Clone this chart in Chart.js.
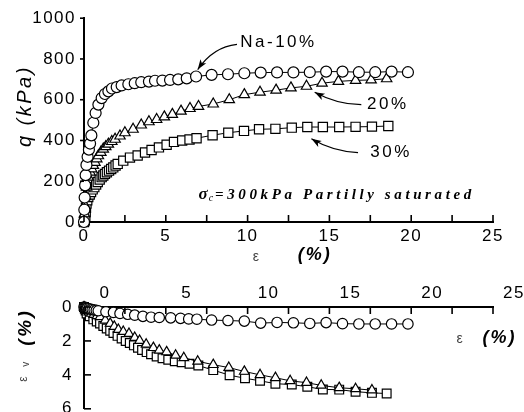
<!DOCTYPE html>
<html>
<head>
<meta charset="utf-8">
<script src="https://cdn.jsdelivr.net/npm/chart.js@4/dist/chart.umd.min.js"></script>
<style>
  html, body { margin: 0; padding: 0; background: #fff; overflow: hidden; }
  #wrap { position: relative; width: 524px; height: 412px; overflow: hidden; }
  #wrap canvas { position: absolute; left: 0; }
  #qChart { top: 0; }
  #vChart { top: 270px; }
</style>
</head>
<body>
<div id="wrap">
  <canvas id="qChart" width="524" height="270"></canvas>
  <canvas id="vChart" width="524" height="160"></canvas>
</div>
<script>
// axial strain (%) vs deviator stress q (kPa)
const naStrain = [0, 0.02, 0.04, 0.07, 0.1, 0.15, 0.22, 0.3, 0.37, 0.45, 0.57, 0.71, 0.88, 1.08, 1.28, 1.49, 1.71, 2.0, 2.3, 2.71, 3.1, 3.5, 3.97, 4.34, 4.79, 5.26, 5.76, 6.28, 6.85, 7.8, 8.8, 9.8, 10.8, 11.8, 12.8, 13.8, 14.8, 15.8, 16.8, 17.8, 18.8, 19.8];
const naQ      = [0, 60, 120, 180, 230, 280, 320, 355, 385, 425, 487, 535, 576, 608, 628, 641, 655, 662, 670, 676, 681, 686, 689, 693, 694, 697, 700, 705, 714, 722, 725, 730, 733, 734, 734, 735, 738, 738, 735, 735, 738, 735];

const s20Strain = [0, 0.03, 0.06, 0.1, 0.16, 0.26, 0.37, 0.47, 0.57, 0.67, 0.78, 0.88, 1.03, 1.18, 1.33, 1.49, 1.7, 1.9, 2.2, 2.5, 3.0, 3.5, 3.97, 4.44, 4.91, 5.4, 5.93, 6.48, 7.0, 7.9, 8.88, 9.8, 10.76, 11.74, 12.65, 13.6, 14.55, 15.55, 16.6, 17.55, 18.5];
const s20Q      = [0, 40, 80, 125, 171, 220, 245, 261, 278, 293, 310, 325, 342, 358, 370, 382, 395, 406, 422, 438, 455, 476, 492, 503, 516, 528, 544, 557, 567, 579, 600, 625, 637, 647, 658, 666, 681, 690, 695, 697, 703];

const s30Strain = [0, 0.05, 0.08, 0.1, 0.12, 0.15, 0.2, 0.26, 0.35, 0.43, 0.53, 0.63, 0.74, 0.84, 0.96, 1.08, 1.18, 1.28, 1.4, 1.53, 1.66, 1.79, 1.93, 2.06, 2.4, 2.81, 3.28, 3.73, 4.13, 4.58, 5.05, 5.5, 6.0, 6.45, 6.88, 7.86, 8.82, 9.78, 10.7, 11.7, 12.7, 13.65, 14.6, 15.6, 16.6, 17.6, 18.6];
const s30Q      = [0, 10, 30, 50, 70, 90, 107, 123, 135, 147, 160, 171, 184, 196, 208, 220, 228, 236, 244, 252, 260, 268, 277, 285, 301, 316, 326, 341, 353, 366, 379, 393, 400, 405, 411, 426, 438, 447, 455, 457, 463, 466, 466, 466, 467, 468, 471];

// axial strain (%) vs volumetric strain (%)
const naVStrain = [0, 0.05, 0.1, 0.15, 0.2, 0.3, 0.4, 0.5, 0.62, 0.75, 0.87, 1.34, 1.8, 2.2, 2.67, 3.1, 3.6, 4.1, 4.6, 5.3, 5.9, 6.4, 6.9, 7.8, 8.8, 9.8, 10.8, 11.8, 12.8, 13.8, 14.8, 15.8, 16.8, 17.8, 18.8, 19.8];
const naVol     = [0, 0.02, 0.04, 0.06, 0.08, 0.1, 0.13, 0.15, 0.18, 0.2, 0.22, 0.28, 0.32, 0.38, 0.43, 0.48, 0.55, 0.6, 0.62, 0.64, 0.67, 0.7, 0.72, 0.77, 0.8, 0.83, 0.95, 0.91, 0.93, 0.97, 0.92, 0.98, 1.0, 1.0, 1.0, 1.0];

const v20Strain = [0, 0.05, 0.1, 0.2, 0.3, 0.45, 0.6, 0.8, 0.98, 1.3, 1.6, 1.85, 2.1, 2.4, 2.75, 3.1, 3.4, 3.8, 4.24, 4.6, 5.05, 5.6, 6.1, 6.95, 7.9, 8.85, 9.8, 10.76, 11.7, 12.6, 13.6, 14.5, 15.6, 16.6, 17.6];
const v20Vol    = [0, 0.08, 0.15, 0.22, 0.3, 0.38, 0.45, 0.52, 0.58, 0.78, 0.97, 1.15, 1.33, 1.45, 1.57, 1.8, 1.98, 2.2, 2.4, 2.55, 2.65, 2.85, 3.0, 3.2, 3.4, 3.57, 3.8, 4.0, 4.17, 4.35, 4.46, 4.62, 4.76, 4.82, 4.9];

const v30Strain = [0, 0.05, 0.1, 0.16, 0.35, 0.57, 0.78, 0.98, 1.18, 1.39, 1.6, 1.8, 2.05, 2.3, 2.55, 2.8, 3.05, 3.3, 3.55, 3.83, 4.1, 4.44, 4.8, 5.15, 5.55, 5.97, 6.45, 6.99, 7.9, 8.9, 9.84, 10.76, 11.7, 12.7, 13.65, 14.6, 15.6, 16.6, 17.6, 18.5];
const v30Vol    = [0, 0.1, 0.2, 0.38, 0.55, 0.73, 0.85, 0.97, 1.12, 1.27, 1.4, 1.53, 1.7, 1.86, 2.0, 2.12, 2.26, 2.4, 2.53, 2.66, 2.78, 2.92, 3.02, 3.11, 3.2, 3.26, 3.35, 3.45, 3.72, 4.02, 4.2, 4.35, 4.52, 4.57, 4.7, 4.86, 4.87, 4.99, 5.06, 5.1];

const strainTicks = [0, 5, 10, 15, 20, 25];
const qTicks = [0, 200, 400, 600, 800, 1000];
const volTicks = [0, 2, 4, 6];

const SANS = '"Liberation Sans", Arial, sans-serif';
const SERIF = '"Liberation Serif", "Times New Roman", serif';
const tickFont = { family: SANS, size: 17 };

const pts = (xs, ys) => xs.map((x, i) => ({ x, y: ys[i] }));

function series(label, data, style, r) {
  return {
    label, data, showLine: true, clip: false,
    borderColor: '#000', borderWidth: 1,
    pointStyle: style, pointRadius: r,
    pointBackgroundColor: '#fff', pointBorderColor: '#000', pointBorderWidth: 1.2
  };
}

// wide tracking on all canvas text
const spacing = {
  id: 'spacing',
  beforeUpdate(chart, args, opts) { chart.ctx.letterSpacing = opts.px + 'px'; },
  beforeDraw(chart, args, opts) { chart.ctx.letterSpacing = opts.px + 'px'; }
};

// short tick marks; negative length points up / left
const tickMarks = {
  id: 'tickMarks',
  afterDraw(chart, args, opts) {
    const ctx = chart.ctx;
    ctx.save();
    ctx.strokeStyle = '#000';
    ctx.lineWidth = 1.6;
    ['x', 'y'].forEach(id => {
      const sc = chart.scales[id];
      const len = opts[id];
      sc.ticks.forEach(t => {
        const p = sc.getPixelForValue(t.value);
        ctx.beginPath();
        if (sc.isHorizontal()) {
          const y = sc.position === 'top' ? sc.bottom : sc.top;
          ctx.moveTo(p, y);
          ctx.lineTo(p, y + len);
        } else {
          ctx.moveTo(sc.right, p);
          ctx.lineTo(sc.right + len, p);
        }
        ctx.stroke();
      });
    });
    ctx.restore();
  }
};

function arrow(ctx, s, c, t) {
  ctx.beginPath();
  ctx.moveTo(s[0], s[1]);
  ctx.quadraticCurveTo(c[0], c[1], t[0], t[1]);
  ctx.stroke();
  const a = Math.atan2(t[1] - c[1], t[0] - c[0]);
  const L = 10, W = 3.5;
  ctx.beginPath();
  ctx.moveTo(t[0], t[1]);
  ctx.lineTo(t[0] - L * Math.cos(a) + W * Math.sin(a), t[1] - L * Math.sin(a) - W * Math.cos(a));
  ctx.lineTo(t[0] - L * 0.75 * Math.cos(a), t[1] - L * 0.75 * Math.sin(a));
  ctx.lineTo(t[0] - L * Math.cos(a) - W * Math.sin(a), t[1] - L * Math.sin(a) + W * Math.cos(a));
  ctx.closePath();
  ctx.fill();
}

// series labels with curved pointers, test condition, axis titles
const qNotes = {
  id: 'qNotes',
  afterDraw(chart) {
    const { ctx, chartArea: area } = chart;
    const sx = chart.scales.x, sy = chart.scales.y;
    const P = (x, y) => [sx.getPixelForValue(x), sy.getPixelForValue(y)];
    ctx.save();
    ctx.fillStyle = '#000';
    ctx.strokeStyle = '#000';
    ctx.lineWidth = 1.2;
    ctx.textBaseline = 'middle';
    ctx.textAlign = 'left';
    ctx.letterSpacing = '2.5px';
    ctx.font = '17px ' + SANS;

    let p = P(9.55, 880); ctx.fillText('Na-10%', p[0], p[1]);
    arrow(ctx, P(9.35, 872), P(7.9, 860), P(6.95, 748));
    p = P(17.3, 578); ctx.fillText('20%', p[0], p[1]);
    arrow(ctx, P(16.95, 576), P(15.5, 576), P(14.1, 637));
    p = P(17.5, 340); ctx.fillText('30%', p[0], p[1]);
    arrow(ctx, P(16.75, 340), P(15.2, 346), P(13.9, 408));

    // confining pressure
    p = P(7.0, 135);
    ctx.textBaseline = 'alphabetic';
    ctx.letterSpacing = '1px';
    ctx.font = 'bold italic 17px ' + SERIF;
    ctx.fillText('\u03c3', p[0], p[1] + 5);
    let x = p[0] + ctx.measureText('\u03c3').width;
    ctx.font = 'italic 10px ' + SERIF;
    ctx.fillText('c', x, p[1] + 7);
    x += ctx.measureText('c').width + 1;
    ctx.font = 'bold italic 15px ' + SERIF;
    ctx.letterSpacing = '3.6px';
    ctx.fillText('=300kPa Partilly saturated', x, p[1] + 5);

    // x title
    ctx.textBaseline = 'middle';
    ctx.textAlign = 'center';
    ctx.letterSpacing = '0px';
    ctx.fillStyle = '#444';
    ctx.font = '14px ' + SANS;
    p = P(10.5, 0);
    ctx.fillText('\u03b5', p[0], area.bottom + 35);
    ctx.fillStyle = '#000';
    ctx.letterSpacing = '2px';
    ctx.font = 'bold italic 18px ' + SANS;
    p = P(14.1, 0);
    ctx.fillText('(%)', p[0], area.bottom + 33);

    // y title
    ctx.translate(25, (area.top + area.bottom) / 2 - 14);
    ctx.rotate(-Math.PI / 2);
    ctx.font = 'italic 20px ' + SANS;
    ctx.letterSpacing = '2.5px';
    ctx.fillText('q (kPa)', 0, 0);
    ctx.restore();
  }
};

const vNotes = {
  id: 'vNotes',
  afterDraw(chart) {
    const { ctx, chartArea: area } = chart;
    const sx = chart.scales.x, sy = chart.scales.y;
    ctx.save();
    ctx.textBaseline = 'middle';
    ctx.textAlign = 'center';
    // x title, right side below the axis
    const ty = sy.getPixelForValue(1.85);
    ctx.fillStyle = '#444';
    ctx.font = '14px ' + SANS;
    ctx.fillText('\u03b5', sx.getPixelForValue(23.0), ty + 1);
    ctx.fillStyle = '#000';
    ctx.letterSpacing = '2px';
    ctx.font = 'bold italic 18px ' + SANS;
    ctx.fillText('(%)', sx.getPixelForValue(25.4), ty);

    // y title: epsilon_v (%)
    ctx.translate(24, sy.getPixelForValue(4.4));
    ctx.rotate(-Math.PI / 2);
    ctx.textAlign = 'left';
    ctx.letterSpacing = '0px';
    ctx.fillStyle = '#444';
    ctx.font = '12px ' + SANS;
    ctx.fillText('\u03b5', 0, 0);
    ctx.font = '10px ' + SANS;
    ctx.fillText('v', 15, 2);
    ctx.fillStyle = '#000';
    ctx.letterSpacing = '2.5px';
    ctx.font = 'bold italic 19px ' + SANS;
    ctx.fillText('(%)', 36, 2);
    ctx.restore();
  }
};

const axisBorder = { color: '#000', width: 2 };
const noGrid = { display: false, drawTicks: false };

new Chart(document.getElementById('qChart'), {
  type: 'scatter',
  data: {
    datasets: [
      series('Na-10%', pts(naStrain, naQ), 'circle', 5.5),
      series('20%', pts(s20Strain, s20Q), 'triangle', 6),
      series('30%', pts(s30Strain, s30Q), 'rect', 6.5)
    ]
  },
  options: {
    responsive: false,
    animation: false,
    events: [],
    layout: { padding: { top: 16, right: 31, left: 0, bottom: 0 } },
    plugins: {
      legend: { display: false },
      tooltip: { enabled: false },
      spacing: { px: 1.5 },
      tickMarks: { x: -7, y: -4 }
    },
    scales: {
      x: {
        type: 'linear', min: 0, max: 25,
        afterFit: s => { s.height = 48; },
        grid: noGrid,
        border: axisBorder,
        ticks: {
          stepSize: 2.5, autoSkip: false, maxRotation: 0, padding: 4,
          color: '#000', font: tickFont,
          callback: v => strainTicks.includes(v) ? v : ''
        }
      },
      y: {
        type: 'linear', min: 0, max: 1000,
        afterFit: s => { s.width = 84; },
        grid: noGrid,
        border: axisBorder,
        ticks: {
          stepSize: 200, padding: 8, color: '#000', font: tickFont,
          callback: v => qTicks.includes(v) ? v : ''
        }
      }
    }
  },
  plugins: [spacing, tickMarks, qNotes]
});

new Chart(document.getElementById('vChart'), {
  type: 'scatter',
  data: {
    datasets: [
      series('Na-10%', pts(naVStrain, naVol), 'circle', 5.2),
      series('20%', pts(v20Strain, v20Vol), 'triangle', 5.6),
      series('30%', pts(v30Strain, v30Vol), 'rect', 6.2)
    ]
  },
  options: {
    responsive: false,
    animation: false,
    events: [],
    layout: { padding: { top: 0, right: 31, left: 0, bottom: 12 } },
    plugins: {
      legend: { display: false },
      tooltip: { enabled: false },
      spacing: { px: 1.5 },
      tickMarks: { x: 7, y: 7 }
    },
    scales: {
      x: {
        type: 'linear', position: 'top', min: 0, max: 25,
        afterFit: s => { s.height = 37; },
        grid: noGrid,
        border: axisBorder,
        ticks: {
          stepSize: 2.5, autoSkip: false, maxRotation: 0, padding: 3, labelOffset: 21,
          color: '#000', font: tickFont,
          callback: v => strainTicks.includes(v) ? v : ''
        }
      },
      y: {
        type: 'linear', reverse: true, min: 0, max: 6,
        afterFit: s => { s.width = 84; },
        grid: noGrid,
        border: axisBorder,
        ticks: {
          stepSize: 1, padding: 11, color: '#000', font: tickFont,
          callback: v => volTicks.includes(v) ? v : ''
        }
      }
    }
  },
  plugins: [spacing, tickMarks, vNotes]
});
</script>
</body>
</html>
